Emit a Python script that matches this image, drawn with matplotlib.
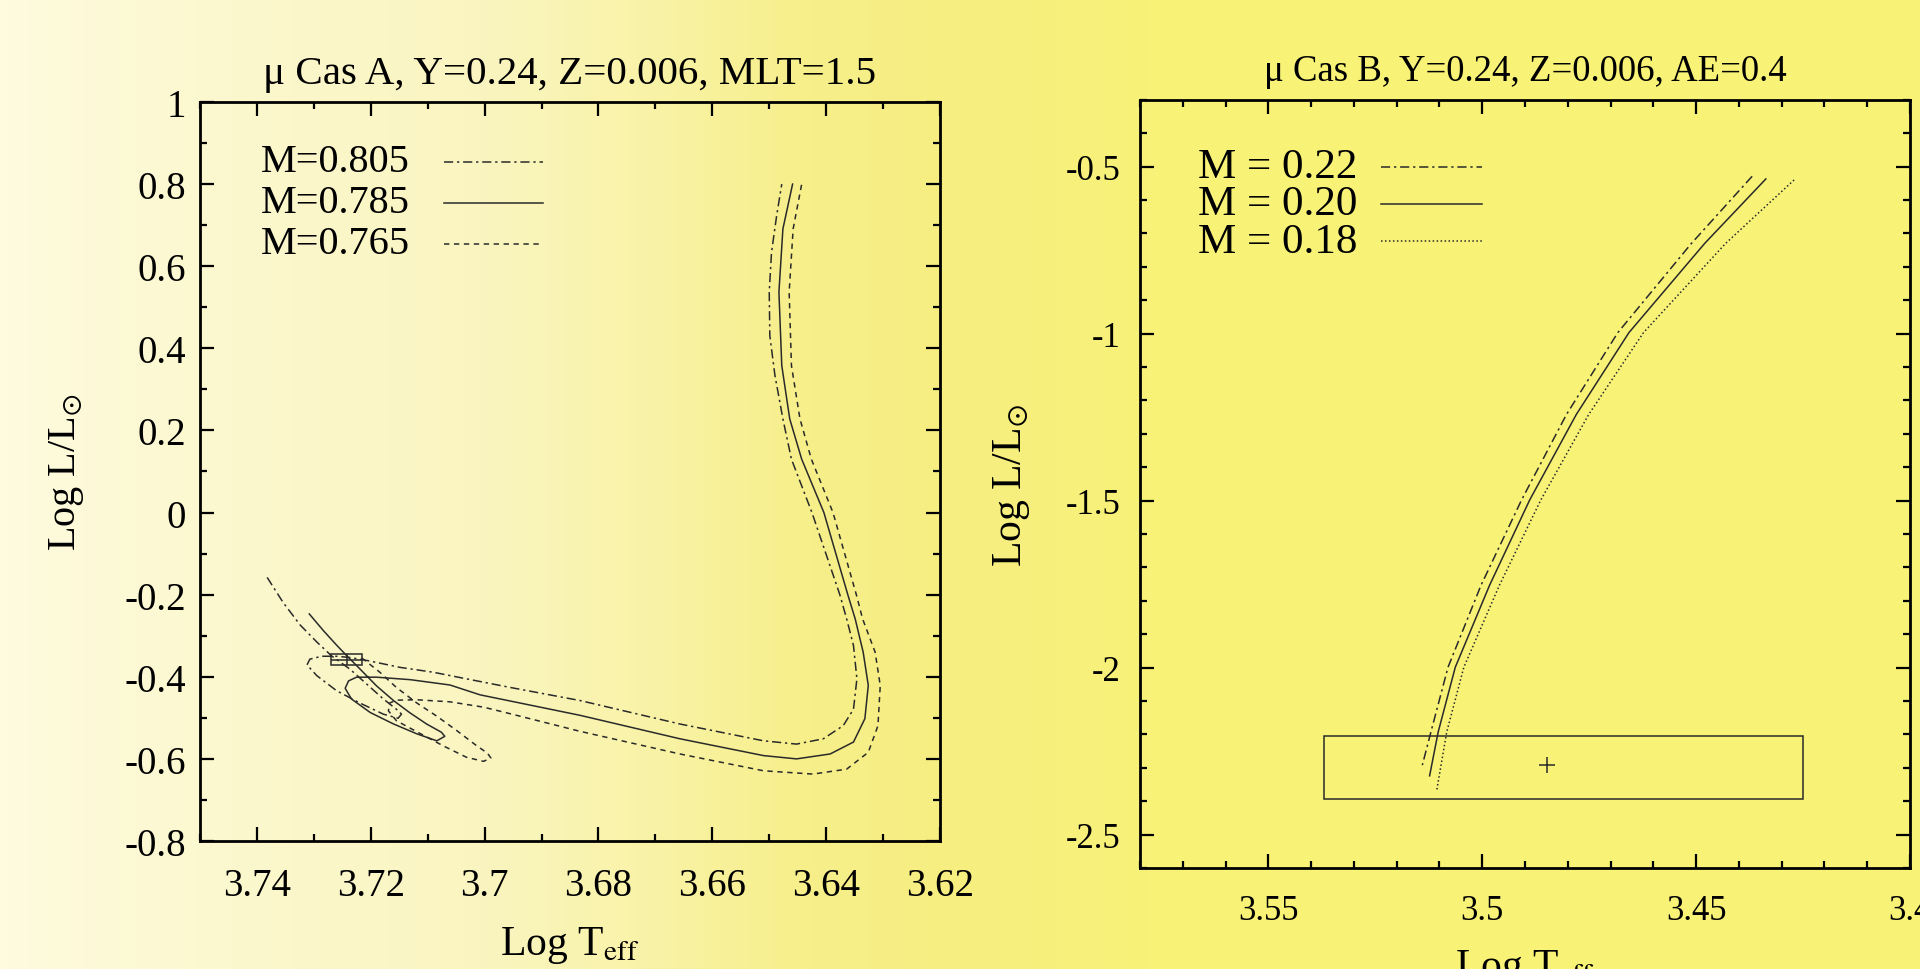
import numpy as np
import matplotlib
matplotlib.use('Agg')
import matplotlib.pyplot as plt
from matplotlib.colors import LinearSegmentedColormap
from matplotlib.patches import Rectangle
from matplotlib.ticker import MultipleLocator, FuncFormatter

plt.rcParams['font.family'] = ['Liberation Serif', 'DejaVu Serif']
plt.rcParams['mathtext.fontset'] = 'stix'

# ---- mu Cas A tracks (log Teff, log L/Lsun) ----
a_labels = ['M=0.805', 'M=0.785', 'M=0.765']
a805_teff = [3.7382, 3.7354, 3.7324, 3.7295, 3.7269, 3.7237, 3.7207, 3.7178, 3.7155, 3.7146,
             3.7152, 3.7178, 3.7219, 3.7260, 3.7295, 3.7312, 3.7307, 3.7286, 3.7260, 3.7237,
             3.7204, 3.7149, 3.7090, 3.7032, 3.6955, 3.6832, 3.6657, 3.6510, 3.6452, 3.6405,
             3.6370, 3.6352, 3.6346, 3.6352, 3.6364, 3.6376, 3.6425, 3.6461, 3.6476, 3.6490,
             3.6499, 3.6500, 3.6496, 3.6487, 3.6478]
a805_logl = [-0.158, -0.219, -0.274, -0.315, -0.349, -0.381, -0.418, -0.454, -0.479, -0.491,
             -0.501, -0.491, -0.464, -0.434, -0.397, -0.371, -0.357, -0.350, -0.350, -0.353,
             -0.361, -0.377, -0.389, -0.405, -0.426, -0.458, -0.515, -0.556, -0.564, -0.551,
             -0.519, -0.479, -0.405, -0.324, -0.259, -0.200, 0.000, 0.130, 0.228, 0.334,
             0.431, 0.537, 0.634, 0.723, 0.800]
a785_teff = [3.7308, 3.7283, 3.7260, 3.7242, 3.7219, 3.7190, 3.7160, 3.7131, 3.7102, 3.7076,
             3.7070, 3.7084, 3.7119, 3.7160, 3.7201, 3.7234, 3.7245, 3.7239, 3.7225, 3.7190,
             3.7131, 3.7061, 3.7008, 3.6832, 3.6657, 3.6510, 3.6452, 3.6393, 3.6352, 3.6332,
             3.6326, 3.6335, 3.6349, 3.6362, 3.6404, 3.6443, 3.6464, 3.6478, 3.6483, 3.6476,
             3.6459]
a785_logl = [-0.247, -0.288, -0.323, -0.349, -0.381, -0.422, -0.458, -0.488, -0.515, -0.535,
             -0.545, -0.556, -0.539, -0.515, -0.487, -0.454, -0.428, -0.410, -0.401, -0.401,
             -0.407, -0.420, -0.444, -0.494, -0.551, -0.592, -0.600, -0.588, -0.559, -0.502,
             -0.421, -0.340, -0.259, -0.200, 0.000, 0.130, 0.228, 0.358, 0.537, 0.691,
             0.800]
a765_teff = [3.7216, 3.7184, 3.7155, 3.7119, 3.7084, 3.7049, 3.7014, 3.6995, 3.6989, 3.7002,
             3.7032, 3.7073, 3.7119, 3.7155, 3.7169, 3.7167, 3.7155, 3.7119, 3.7061, 3.7002,
             3.6955, 3.6832, 3.6657, 3.6510, 3.6423, 3.6364, 3.6326, 3.6309, 3.6305, 3.6314,
             3.6336, 3.6347, 3.6388, 3.6426, 3.6446, 3.6461, 3.6465, 3.6458, 3.6443]
a765_logl = [-0.354, -0.389, -0.426, -0.464, -0.496, -0.531, -0.568, -0.586, -0.598, -0.606,
             -0.596, -0.568, -0.534, -0.507, -0.483, -0.464, -0.457, -0.456, -0.461, -0.474,
             -0.490, -0.533, -0.588, -0.629, -0.637, -0.625, -0.584, -0.519, -0.421, -0.340,
             -0.259, -0.200, 0.000, 0.130, 0.228, 0.358, 0.537, 0.691, 0.800]
# observed position of A with its error box
a_obs_teff, a_obs_dteff = 3.7242, 0.0027
a_obs_logl, a_obs_dlogl = -0.358, 0.014

# ---- mu Cas B tracks ----
b_labels = ['M = 0.22', 'M = 0.20', 'M = 0.18']
b22_teff = [3.4369, 3.4511, 3.4683, 3.4803, 3.4908, 3.5003, 3.5080, 3.5120, 3.5140]
b22_logl = [-0.529, -0.730, -0.997, -1.242, -1.498, -1.754, -1.999, -2.193, -2.292]
b20_teff = [3.4337, 3.4480, 3.4657, 3.4780, 3.4889, 3.4983, 3.5063, 3.5103, 3.5123]
b20_logl = [-0.537, -0.730, -0.997, -1.242, -1.498, -1.754, -1.999, -2.193, -2.324]
b18_teff = [3.4271, 3.4431, 3.4623, 3.4751, 3.4863, 3.4960, 3.5043, 3.5083, 3.5106]
b18_logl = [-0.540, -0.730, -0.997, -1.242, -1.498, -1.754, -1.999, -2.193, -2.365]
b_obs_teff, b_obs_logl = 3.4848, -2.291
b_box_teff = [3.4251, 3.5371]
b_box_logl = [-2.3937, -2.2038]

INK = '#2a2a2a'
DASHDOT = (0, (6, 2.5, 1.5, 2.5))
SHORTDASH = (0, (3.5, 3))
DOTS = (0, (1, 1.6))


def gnuplot_axes(ax, xmaj, xmin, ymaj, ymin, size, ypad):
    ax.patch.set_alpha(0)
    for s in ax.spines.values():
        s.set_linewidth(2.0)
    ax.xaxis.set_major_locator(MultipleLocator(xmaj))
    ax.xaxis.set_minor_locator(MultipleLocator(xmin))
    ax.yaxis.set_major_locator(MultipleLocator(ymaj))
    ax.yaxis.set_minor_locator(MultipleLocator(ymin))
    fmt = FuncFormatter(lambda v, p: '%g' % (round(v, 4) + 0.0))
    ax.xaxis.set_major_formatter(fmt)
    ax.yaxis.set_major_formatter(fmt)
    ax.tick_params(which='both', direction='in', top=True, right=True,
                   width=1.6, labelsize=size)
    ax.tick_params(which='major', length=10)
    ax.tick_params(which='minor', length=5)
    ax.tick_params(axis='x', pad=19)
    ax.tick_params(axis='y', pad=ypad)


fig = plt.figure(figsize=(19.2, 9.7), dpi=100)

# yellow slide background
bg = fig.add_axes([0, 0, 1, 1], zorder=-10)
stops = [0.0, 0.1, 0.25, 0.33, 0.42, 0.5, 0.6, 1.0]
cols = ['#fefbdf', '#fcf8d0', '#faf5c0', '#f9f3aa', '#f7ef8a', '#f6ee80', '#f8f278', '#f8f276']
cmap = LinearSegmentedColormap.from_list('slide', list(zip(stops, cols)))
bg.imshow(np.linspace(0, 1, 512).reshape(1, -1), aspect='auto', cmap=cmap,
          extent=[0, 1, 0, 1])
bg.axis('off')

# ---------------- left panel ----------------
ax1 = fig.add_axes([0.10417, 0.13196, 0.38542, 0.76186])
gnuplot_axes(ax1, 0.02, 0.01, 0.2, 0.1, 28, 10)
ax1.set_xlim(3.75, 3.62)
ax1.set_ylim(-0.8, 1.0)

a_tracks = [(a805_teff, a805_logl, DASHDOT), (a785_teff, a785_logl, '-'),
            (a765_teff, a765_logl, SHORTDASH)]
for t, l, ls in a_tracks:
    ax1.plot(t, l, color=INK, lw=1.1, ls=ls)

ax1.add_patch(Rectangle((a_obs_teff - a_obs_dteff, a_obs_logl - a_obs_dlogl),
                        2 * a_obs_dteff, 2 * a_obs_dlogl, fill=False,
                        ec=INK, lw=1.1))
ax1.errorbar(a_obs_teff, a_obs_logl, xerr=a_obs_dteff, yerr=a_obs_dlogl,
             fmt='none', ecolor=INK, elinewidth=1.1, capsize=0)

# key, gnuplot style: text first, sample line after
for i, (lab, (t, l, ls)) in enumerate(zip(a_labels, a_tracks)):
    yy = 0.919 - i * 0.0555
    ax1.text(0.082, yy, lab, transform=ax1.transAxes, fontsize=29, va='center')
    ax1.plot([0.33, 0.4635], [yy, yy], transform=ax1.transAxes,
             color=INK, lw=1.1, ls=ls)

ax1.set_title('μ Cas A, Y=0.24, Z=0.006, MLT=1.5', fontsize=29.5, pad=14)
ax1.set_xlabel(r'Log T$_{\rm eff}$', fontsize=30, labelpad=14)
ax1.set_ylabel(r'Log L/L$_{\odot}$', fontsize=29, labelpad=28)

# ---------------- right panel ----------------
ax2 = fig.add_axes([0.59375, 0.10412, 0.40104, 0.79196])
gnuplot_axes(ax2, 0.05, 0.01, 0.5, 0.1, 25, 14)
ax2.set_xlim(3.58, 3.40)
ax2.set_ylim(-2.6, -0.3)

b_tracks = [(b22_teff, b22_logl, DASHDOT), (b20_teff, b20_logl, '-'),
            (b18_teff, b18_logl, DOTS)]
for t, l, ls in b_tracks:
    ax2.plot(t, l, color=INK, lw=1.1, ls=ls)

ax2.add_patch(Rectangle((b_box_teff[0], b_box_logl[0]),
                        b_box_teff[1] - b_box_teff[0], b_box_logl[1] - b_box_logl[0],
                        fill=False, ec=INK, lw=1.1))
ax2.plot(b_obs_teff, b_obs_logl, marker='+', ms=11, mew=1.1, color=INK)

for i, (lab, (t, l, ls)) in enumerate(zip(b_labels, b_tracks)):
    yy = 0.913 - i * 0.0486
    ax2.text(0.075, yy, lab, transform=ax2.transAxes, fontsize=31, va='center')
    ax2.plot([0.313, 0.4436], [yy, yy], transform=ax2.transAxes,
             color=INK, lw=1.1, ls=ls)

ax2.set_title('μ Cas B, Y=0.24, Z=0.006, AE=0.4', fontsize=26.5, pad=14)
ax2.set_xlabel(r'Log T$_{\rm eff}$', fontsize=30, labelpad=14)
ax2.set_ylabel(r'Log L/L$_{\odot}$', fontsize=30, labelpad=24)

fig.savefig('out.png', dpi=100)
